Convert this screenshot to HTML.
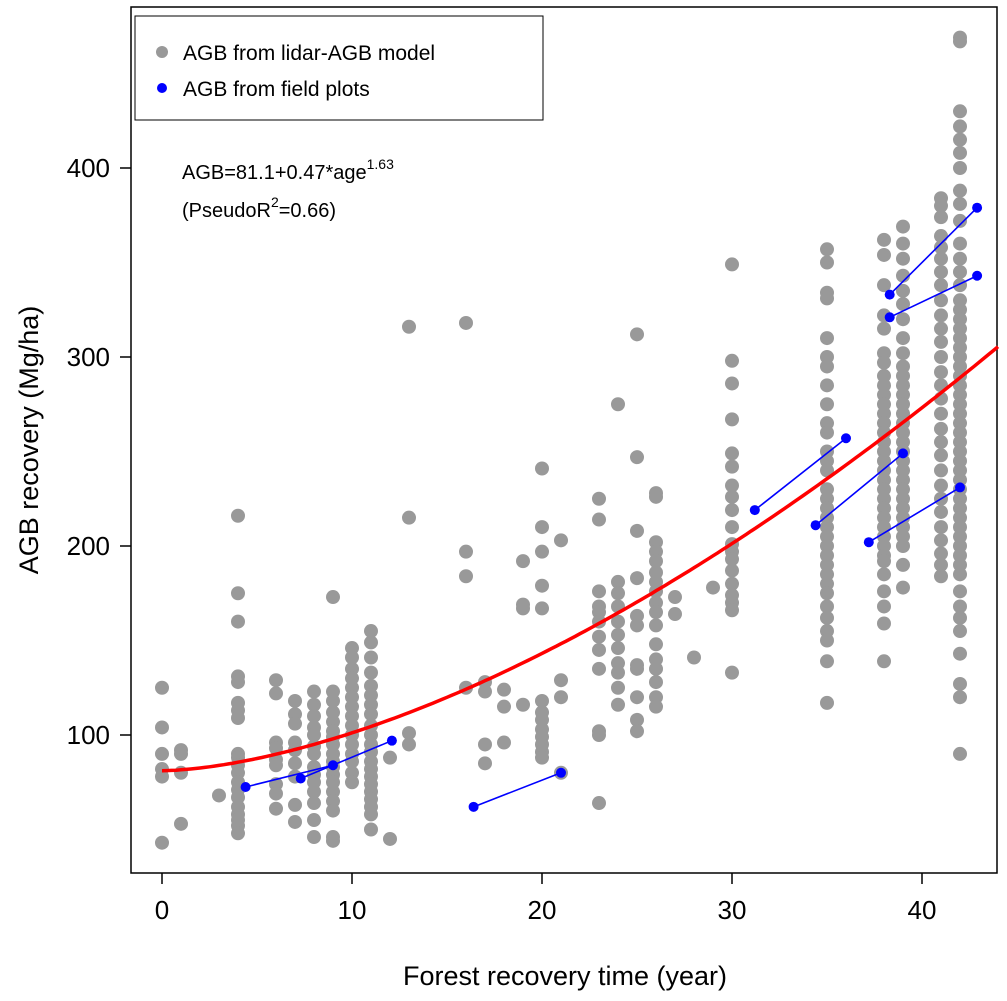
<!DOCTYPE html>
<html><head><meta charset="utf-8"><style>
html,body{margin:0;padding:0;background:#fff;}
svg{display:block;font-family:"Liberation Sans",Arial,sans-serif;}
</style></head><body>
<svg id="chart" width="1007" height="1001" viewBox="0 0 1007 1001">
<rect x="131" y="7" width="866" height="866" fill="none" stroke="#000" stroke-width="1.5"/>
<g id="grey"></g>
<g id="curve"></g>
<g id="blue"></g>
<g id="axes"></g>
<rect x="135" y="16" width="408" height="104" fill="#fff" stroke="#000" stroke-width="1"/>
<circle cx="162" cy="52" r="6" fill="#999"/>
<text x="183" y="60" font-size="21">AGB from lidar-AGB model</text>
<circle cx="162" cy="88" r="5" fill="#00f"/>
<text x="183" y="96" font-size="21">AGB from field plots</text>
<text x="182" y="179" font-size="20">AGB=81.1+0.47*age<tspan dy="-10" font-size="14">1.63</tspan></text>
<text x="182" y="217" font-size="20">(PseudoR<tspan dy="-10" font-size="14">2</tspan><tspan dy="10">=0.66)</tspan></text>
<text x="565" y="985" font-size="27" text-anchor="middle">Forest  recovery  time (year)</text>
<text transform="translate(38,440) rotate(-90)" font-size="27" text-anchor="middle">AGB  recovery (Mg/ha)</text>
</svg>
<script>
const xTicks=[0,10,20,30,40];
const yTicks=[100,200,300,400];
const ages=[0,1,3,4,6,7,8,9,10,11,12,13,16,17,18,19,20,21,23,24,25,26,27,28,29,30,35,38,39,41,42];
const agbValues=[
[125,104,90,82,78,43],
[92,90,80,53],
[68],
[216,175,160,131,128,117,113,109,90,88,84,80,75,71,67,62,58,55,52,48],
[129,122,96,93,87,84,74,69,61],
[118,111,106,96,92,85,78,63,54],
[123,116,110,104,100,94,90,83,79,75,70,64,55,46],
[173,123,118,112,107,102,99,95,90,86,83,79,75,70,65,60,46,44],
[146,141,135,130,125,120,115,110,105,100,95,90,86,80,75],
[155,149,141,133,126,121,116,111,105,100,95,91,86,82,78,74,70,66,62,58,50],
[88,45],
[316,215,101,95],
[318,197,184,125],
[128,123,95,85],
[124,115,96],
[192,169,167,116],
[241,210,197,179,167,118,112,108,103,99,95,91,88],
[203,129,120,80],
[225,214,176,168,165,160,152,145,135,102,100,64],
[275,181,175,168,160,153,146,138,133,125,116],
[312,247,208,183,163,158,137,135,120,108,102],
[228,226,202,197,192,186,181,176,170,165,158,148,140,135,128,120,115],
[173,164],
[141],
[178],
[349,298,286,267,249,242,232,226,219,210,201,197,193,187,180,174,170,166,133],
[357,350,334,331,310,300,295,285,275,265,260,250,245,240,230,225,220,215,210,205,200,195,190,185,180,175,168,162,155,150,139,117],
[362,354,338,322,315,302,297,290,285,280,275,270,265,260,255,250,245,240,235,230,225,220,215,210,205,200,195,192,185,176,168,159,139],
[369,360,352,343,335,328,320,310,302,295,290,285,280,275,270,265,260,255,250,245,240,235,230,225,220,215,210,205,200,190,178],
[384,380,374,364,358,352,345,338,330,322,315,308,300,292,285,278,270,262,255,248,240,232,225,218,210,203,196,190,184],
[469,467,430,422,415,408,400,388,381,372,360,352,345,338,330,325,320,315,310,305,300,295,290,285,280,275,270,265,260,255,250,245,240,235,230,225,220,215,210,205,200,195,190,185,176,168,162,155,143,127,120,90]
];
const fieldAgeStart=[4.4,7.3,16.4,31.2,34.4,37.2,38.3,38.3];
const fieldAgeEnd=[9.0,12.1,21.0,36.0,39.0,42.0,42.9,42.9];
const fieldAgbStart=[72.5,77,62,219,211,202,333,321];
const fieldAgbEnd=[84,97,80,257,249,231,379,343];
const fitCoef=[81.1,0.47,1.63];

const X=a=>162+a*19;
const Y=v=>735-(v-100)*1.89;
const NS='http://www.w3.org/2000/svg';
function mk(tag,parent,attrs){const e=document.createElementNS(NS,tag);for(const k in attrs)e.setAttribute(k,attrs[k]);parent.appendChild(e);return e;}

const grey=document.getElementById('grey');
ages.forEach((a,i)=>agbValues[i].forEach(v=>{
  const c=mk('circle',grey,{cx:X(a),cy:Y(v),r:7,fill:'#999'});
  
  
}));

const cg=document.getElementById('curve');
let d='';
for(let a=0;a<=44.1;a+=0.25){const v=fitCoef[0]+fitCoef[1]*Math.pow(a,fitCoef[2]);d+=(d?'L':'M')+X(a).toFixed(1)+','+Y(v).toFixed(1);}
const cp=mk('path',cg,{d:d,fill:'none',stroke:'#f00','stroke-width':3.5});



const bg=document.getElementById('blue');
fieldAgeStart.forEach((a,i)=>{
  const l=mk('line',bg,{x1:X(a),y1:Y(fieldAgbStart[i]),x2:X(fieldAgeEnd[i]),y2:Y(fieldAgbEnd[i]),stroke:'#00f','stroke-width':1.6});
  
  
  [[a,fieldAgbStart[i]],[fieldAgeEnd[i],fieldAgbEnd[i]]].forEach(p=>{
    const c=mk('circle',bg,{cx:X(p[0]),cy:Y(p[1]),r:5,fill:'#00f'});
    
    
  });
});

const ax=document.getElementById('axes');
xTicks.forEach(t=>{
  const l=mk('line',ax,{x1:X(t),y1:873,x2:X(t),y2:884,stroke:'#000','stroke-width':1.5});
  
  
  const tx=mk('text',ax,{x:X(t),y:919,'font-size':26,'text-anchor':'middle'});
  tx.textContent=t;
  
  
});
yTicks.forEach(t=>{
  const l=mk('line',ax,{x1:120,y1:Y(t),x2:131,y2:Y(t),stroke:'#000','stroke-width':1.5});
  
  
  const tx=mk('text',ax,{x:110,y:Y(t)+9,'font-size':26,'text-anchor':'end'});
  tx.textContent=t;
  
  
});
</script>
</body></html>
